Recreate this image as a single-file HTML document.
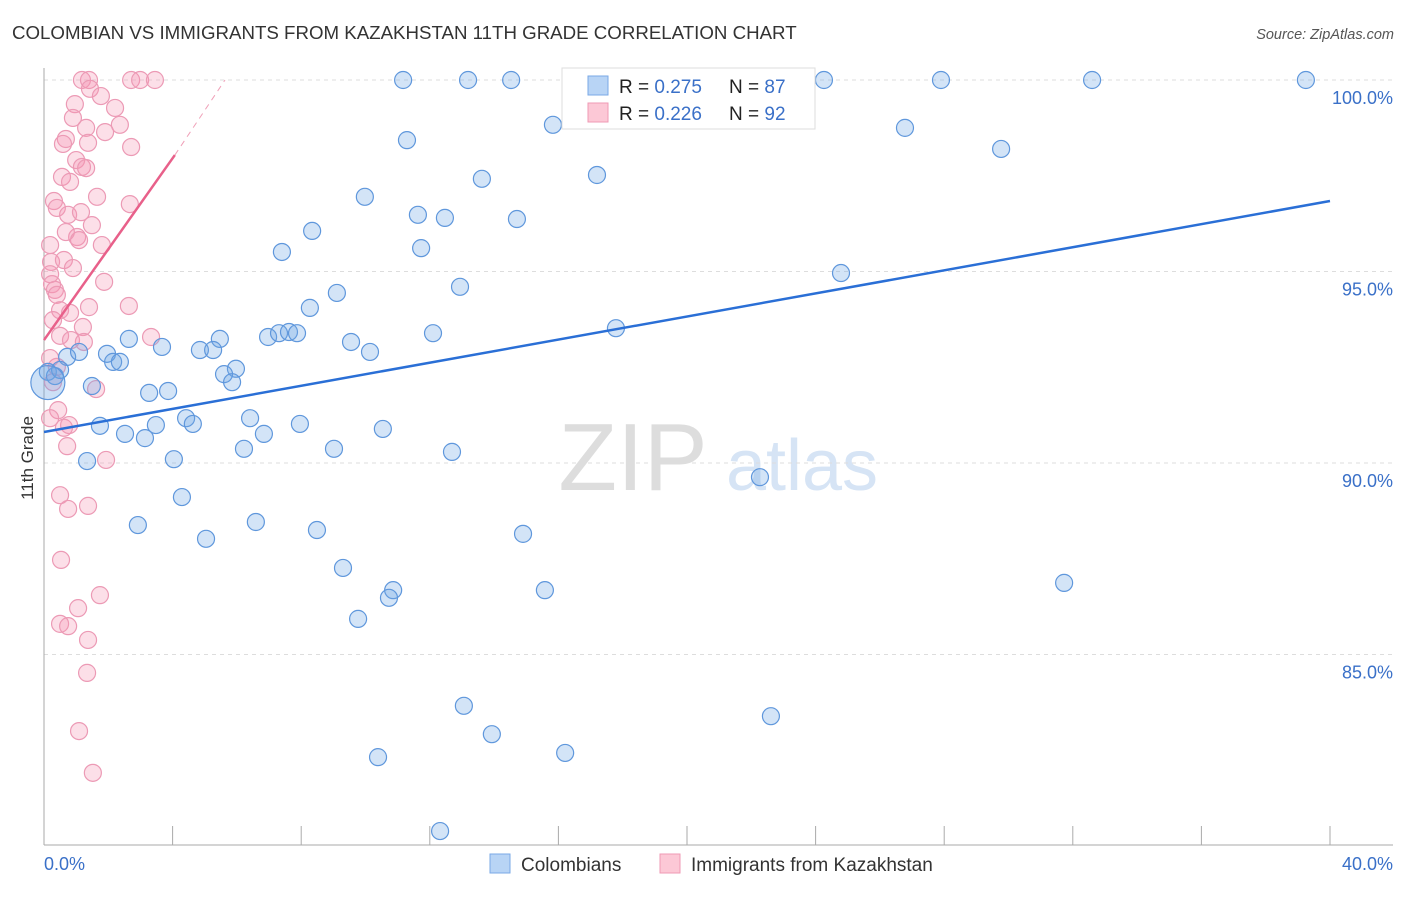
<!DOCTYPE html>
<html><head><meta charset="utf-8"><style>
body{margin:0;background:#fff;font-family:"Liberation Sans",sans-serif;}
svg text{font-family:"Liberation Sans",sans-serif;}
</style></head><body>
<svg id="chart" width="1406" height="892" xmlns="http://www.w3.org/2000/svg">
<text x="12" y="39" font-size="18.7" fill="#333">COLOMBIAN VS IMMIGRANTS FROM KAZAKHSTAN 11TH GRADE CORRELATION CHART</text>
<text x="1394" y="39" font-size="14.5" fill="#555" font-style="italic" text-anchor="end">Source: ZipAtlas.com</text>
<g>
<text x="633" y="490" font-size="96" fill="#ddd" font-family="Liberation Serif" text-anchor="middle">ZIP</text>
<text x="802" y="490" font-size="72" fill="#d6e4f5" text-anchor="middle">atlas</text>
</g>
<g id="grid"></g>
<g id="axes"></g>
<g id="marks"></g>
<text transform="translate(33,458) rotate(-90)" font-size="17" fill="#333" text-anchor="middle">11th Grade</text>
<g>
<rect x="562" y="68" width="253" height="61" fill="#fff" stroke="#ddd"/>
<rect x="588" y="76" width="20" height="19" fill="#b8d4f5" stroke="#7aa8e6"/>
<rect x="588" y="103" width="20" height="19" fill="#fcc8d6" stroke="#ef9ab4"/>
<text x="619" y="93" font-size="19" fill="#222">R = <tspan fill="#3a70c8">0.275</tspan><tspan x="729">N = </tspan><tspan fill="#3a70c8">87</tspan></text>
<text x="619" y="120" font-size="19" fill="#222">R = <tspan fill="#3a70c8">0.226</tspan><tspan x="729">N = </tspan><tspan fill="#3a70c8">92</tspan></text>
</g>
<g>
<rect x="490" y="854" width="20" height="19" fill="#b8d4f5" stroke="#7aa8e6"/>
<text x="521" y="871" font-size="19" fill="#333">Colombians</text>
<rect x="660" y="854" width="20" height="19" fill="#fcc8d6" stroke="#ef9ab4"/>
<text x="691" y="871" font-size="19" fill="#333">Immigrants from Kazakhstan</text>
</g>
</svg>
<script>
const yTicks=[85,90,95,100];
const yTickLabels=["85.0%","90.0%","95.0%","100.0%"];
const xTickVals=[0,4,8,12,16,20,24,28,32,36,40];
const blueX=[11.17,13.19,14.53,19.56,24.26,27.9,32.6,39.25,15.83,26.78,29.77,11.29,13.62,17.2,9.98,11.63,12.47,14.71,8.34,11.73,7.4,24.79,12.94,9.11,8.27,17.79,12.1,2.64,3.67,5.47,6.97,7.31,7.62,7.87,9.55,10.14,4.85,5.26,1.96,0.72,1.09,2.15,2.36,5.97,5.6,5.85,0.12,0.34,0.5,1.49,3.27,3.86,4.42,4.63,6.41,7.96,10.54,1.74,2.52,3.14,3.48,6.84,6.22,9.02,12.69,1.34,4.04,22.27,4.29,2.92,6.59,8.49,14.9,5.04,9.3,10.86,10.73,15.58,31.73,9.77,13.06,22.61,13.93,10.39,16.21,12.32];
const blueY=[100,100,100,99.9,100,100,100,100,98.83,98.75,98.2,98.43,97.42,97.52,96.95,96.48,96.4,96.37,96.06,95.61,95.51,94.96,94.6,94.44,94.05,93.52,93.39,93.24,93.03,93.24,93.29,93.39,93.42,93.39,93.16,92.9,92.95,92.95,92.85,92.77,92.9,92.64,92.64,92.46,92.32,92.11,92.38,92.27,92.43,92.01,91.83,91.88,91.17,91.02,91.17,91.02,90.89,90.97,90.76,90.65,90.99,90.76,90.37,90.37,90.29,90.05,90.1,89.63,89.11,88.38,88.46,88.25,88.15,88.02,87.26,86.68,86.48,86.68,86.87,85.93,83.66,83.39,82.92,82.32,82.43,80.39];
const pinkX=[1.18,1.4,2.71,2.99,3.45,1.43,1.77,0.96,2.21,0.9,2.36,1.31,1.9,0.68,0.59,1.37,2.71,1.0,1.18,1.31,0.56,0.81,1.65,0.31,0.4,2.67,0.75,1.15,1.49,1.03,0.68,1.09,1.8,0.19,0.22,0.62,0.9,0.19,0.25,0.34,0.4,1.87,0.5,0.81,1.4,2.64,0.28,1.21,0.5,0.84,1.24,3.33,0.19,0.4,0.28,1.62,0.44,0.19,0.62,0.78,1.93,0.72,0.5,1.37,0.75,0.53,1.74,1.06,0.5,0.75,1.37,1.34,1.09,1.52];
const pinkY=[100,100,100,100,100,99.77,99.58,99.37,99.27,99.01,98.83,98.75,98.64,98.46,98.33,98.36,98.25,97.91,97.73,97.7,97.47,97.34,96.95,96.84,96.66,96.76,96.48,96.55,96.21,95.9,96.03,95.82,95.69,95.69,95.25,95.3,95.09,94.93,94.67,94.52,94.39,94.73,93.99,93.92,94.07,94.1,93.73,93.55,93.32,93.21,93.16,93.29,92.74,92.51,92.11,91.93,91.38,91.17,90.92,90.99,90.08,90.44,89.16,88.88,88.8,87.47,86.55,86.21,85.8,85.74,85.38,84.52,83.0,81.91];
const blueTrendX=[0,40], blueTrendY=[90.81,96.84];
const pinkTrendX=[0,4.07], pinkTrendY=[93.21,98.04];
const pinkDashX=[4.07,5.63], pinkDashY=[98.04,100];

const X0=44,X1=1330,Y100=80,PXPER=38.3;
const sx=v=>X0+(X1-X0)*v/40;
const sy=v=>Y100+(100-v)*PXPER;
const NS="http://www.w3.org/2000/svg";
function mk(tag,attrs,parent){const e=document.createElementNS(NS,tag);for(const k in attrs)e.setAttribute(k,attrs[k]);parent.appendChild(e);return e;}
const grid=document.getElementById('grid'),axes=document.getElementById('axes'),marks=document.getElementById('marks');
yTicks.forEach((t,i)=>{
 const l=mk('line',{x1:X0,x2:1393,y1:sy(t),y2:sy(t),stroke:'#ddd','stroke-dasharray':'4,4'},grid);
 
 
 const tx=mk('text',{x:1393,y:sy(t)+24,'font-size':18,fill:'#3a70c8','text-anchor':'end'},axes);
 tx.textContent=yTickLabels[i];
 
 
});
let a=mk('line',{x1:X0,x2:X0,y1:68,y2:845,stroke:'#aaa'},axes);


a=mk('line',{x1:X0,x2:1393,y1:845,y2:845,stroke:'#aaa'},axes);


xTickVals.forEach(v=>{
 const t=mk('line',{x1:sx(v),x2:sx(v),y1:826,y2:845,stroke:'#aaa'},axes);
 
 
});
let xl=mk('text',{x:44,y:870,'font-size':18,fill:'#3a70c8'},axes);xl.textContent='0.0%';


xl=mk('text',{x:1393,y:870,'font-size':18,fill:'#3a70c8','text-anchor':'end'},axes);xl.textContent='40.0%';



pinkX.forEach((v,i)=>{
 const c=mk('circle',{cx:sx(v),cy:sy(pinkY[i]),r:8.5,fill:'rgba(244,150,180,0.3)',stroke:'#ec9ab5','stroke-width':1.2},marks);
 
 
});
blueX.forEach((v,i)=>{
 const c=mk('circle',{cx:sx(v),cy:sy(blueY[i]),r:8.5,fill:'rgba(110,165,230,0.3)',stroke:'#5f97dc','stroke-width':1.2},marks);
 
 
});
const big=mk('circle',{cx:sx(0.12),cy:sy(92.1),r:17,fill:'rgba(110,165,230,0.35)',stroke:'#5f97dc','stroke-width':1.2},marks);


let tl=mk('line',{x1:sx(blueTrendX[0]),y1:sy(blueTrendY[0]),x2:sx(blueTrendX[1]),y2:sy(blueTrendY[1]),stroke:'#2a6fd6','stroke-width':2.5},marks);


tl=mk('line',{x1:sx(pinkTrendX[0]),y1:sy(pinkTrendY[0]),x2:sx(pinkTrendX[1]),y2:sy(pinkTrendY[1]),stroke:'#e8608a','stroke-width':2.5},marks);


tl=mk('line',{x1:sx(pinkDashX[0]),y1:sy(pinkDashY[0]),x2:sx(pinkDashX[1]),y2:sy(pinkDashY[1]),stroke:'#f0a0b8','stroke-width':1,'stroke-dasharray':'6,5'},marks);


</script>
</body></html>
